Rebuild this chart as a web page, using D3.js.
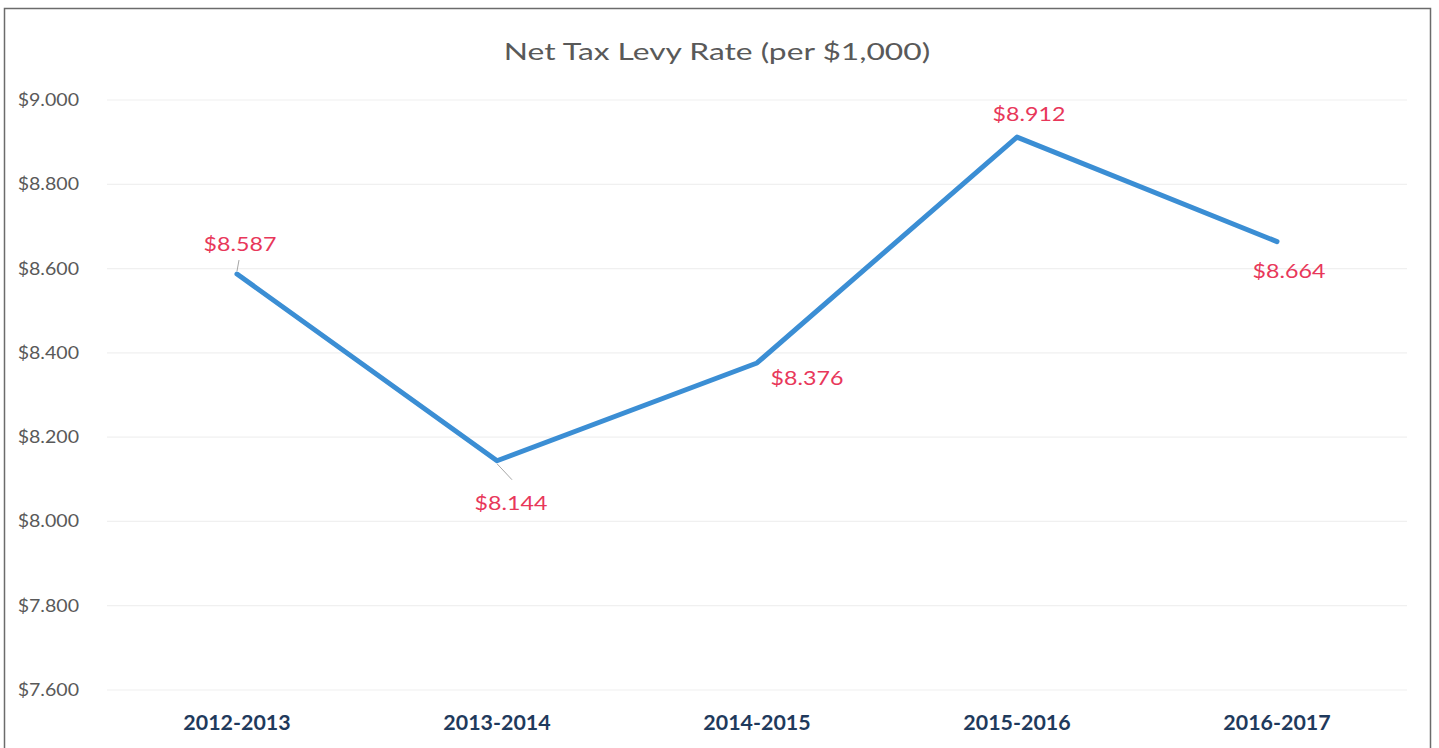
<!DOCTYPE html>
<html>
<head>
<meta charset="utf-8">
<script src="https://cdn.jsdelivr.net/npm/d3@7"></script>
<style>
    html, body { margin: 0; padding: 0; background: #fff; }
    svg { display: block; }
</style>
</head>
<body>
<div class="draw-area"></div>
<script>
// Chart data
const categories = ["2012-2013", "2013-2014", "2014-2015", "2015-2016", "2016-2017"];
const rateValues = [8.587, 8.144, 8.376, 8.912, 8.664];
const yTicks = [7.6, 7.8, 8.0, 8.2, 8.4, 8.6, 8.8, 9.0];
const chartTitle = "Net Tax Levy Rate (per $1,000)";

// Label placement per point: offsets from the point, plus leader line flag
const labelPlacement = [
    { dx: 3, dy: -23, leader: true },
    { dx: 14, dy: 49, leader: true },
    { dx: 50, dy: 22, leader: false },
    { dx: 12, dy: -16, leader: false },
    { dx: 12, dy: 36, leader: false }
];

const width = 1439, height = 748;
const margin = { top: 100, right: 32, bottom: 58, left: 107 };
const fontFamily = "Lato, 'Open Sans', sans-serif";

// Widen text horizontally to match the reference's stretched glyphs
function stretchText(selection, factor) {
    selection.each(function () {
        const len = this.getComputedTextLength();
        d3.select(this)
            .attr("textLength", len * factor)
            .attr("lengthAdjust", "spacingAndGlyphs");
    });
}

const svg = d3.select(".draw-area")
    .append("svg")
    .attr("width", width)
    .attr("height", height);

// Outer chart frame
svg.append("rect")
    .attr("x", 4.5).attr("y", 8.5)
    .attr("width", 1426).attr("height", 760)
    .attr("fill", "#fff")
    .attr("stroke", "#6b6b6b")
    .attr("stroke-width", 1.5);

// Title
svg.append("text")
    .attr("x", 717).attr("y", 60)
    .attr("text-anchor", "middle")
    .attr("font-family", fontFamily)
    .attr("font-size", 23)
    .attr("fill", "#595959")
    .text(chartTitle)
    .call(stretchText, 1.38);

// Scales
const x = d3.scaleBand()
    .domain(categories)
    .range([margin.left, width - margin.right]);

const y = d3.scaleLinear()
    .domain([7.6, 9.0])
    .range([690, margin.top]);

// Gridlines
svg.append("g")
    .selectAll("line")
    .data(yTicks)
    .join("line")
    .attr("x1", x.range()[0]).attr("x2", x.range()[1])
    .attr("y1", d => y(d)).attr("y2", d => y(d))
    .attr("stroke", "#f0f0f0")
    .attr("stroke-width", 1.2);

// Y axis
const yAxis = svg.append("g")
    .attr("transform", `translate(${margin.left - 25},0)`)
    .call(d3.axisLeft(y).tickValues(yTicks).tickSize(0).tickFormat(d => "$" + d3.format(".3f")(d)));
yAxis.select(".domain").remove();
yAxis.selectAll("text")
    .attr("font-family", fontFamily)
    .attr("font-size", 17)
    .attr("fill", "#595959")
    .call(stretchText, 1.15);

// X axis
const xAxis = svg.append("g")
    .attr("transform", `translate(0,${y(7.6) + 23})`)
    .call(d3.axisBottom(x).tickSize(0));
xAxis.select(".domain").remove();
xAxis.selectAll("text")
    .attr("font-family", fontFamily)
    .attr("font-size", 20)
    .attr("font-weight", "bold")
    .attr("fill", "#1f3a5c")
    .call(stretchText, 1.07);

const cx = d => x(d) + x.bandwidth() / 2;

// Line series
const line = d3.line()
    .x((d, i) => cx(categories[i]))
    .y(d => y(d));

svg.append("path")
    .datum(rateValues)
    .attr("d", line)
    .attr("fill", "none")
    .attr("stroke", "#3b8ed4")
    .attr("stroke-width", 5)
    .attr("stroke-linejoin", "round")
    .attr("stroke-linecap", "round");

// Data labels
const labels = svg.append("g");
rateValues.forEach((v, i) => {
    const px = cx(categories[i]), py = y(v);
    const p = labelPlacement[i];
    if (p.leader) {
        const up = p.dy < 0;
        labels.append("line")
            .attr("x1", px).attr("y1", py + (up ? -3 : 3))
            .attr("x2", px + (up ? 2 : 15)).attr("y2", py + (up ? -14 : 19))
            .attr("stroke", "#a6a6a6")
            .attr("stroke-width", 1);
    }
    labels.append("text")
        .attr("x", px + p.dx).attr("y", py + p.dy)
        .attr("text-anchor", "middle")
        .attr("font-family", fontFamily)
        .attr("font-size", 20)
        .attr("fill", "#e8375a")
        .text("$" + d3.format(".3f")(v))
        .call(stretchText, 1.16);
});
</script>
</body>
</html>
